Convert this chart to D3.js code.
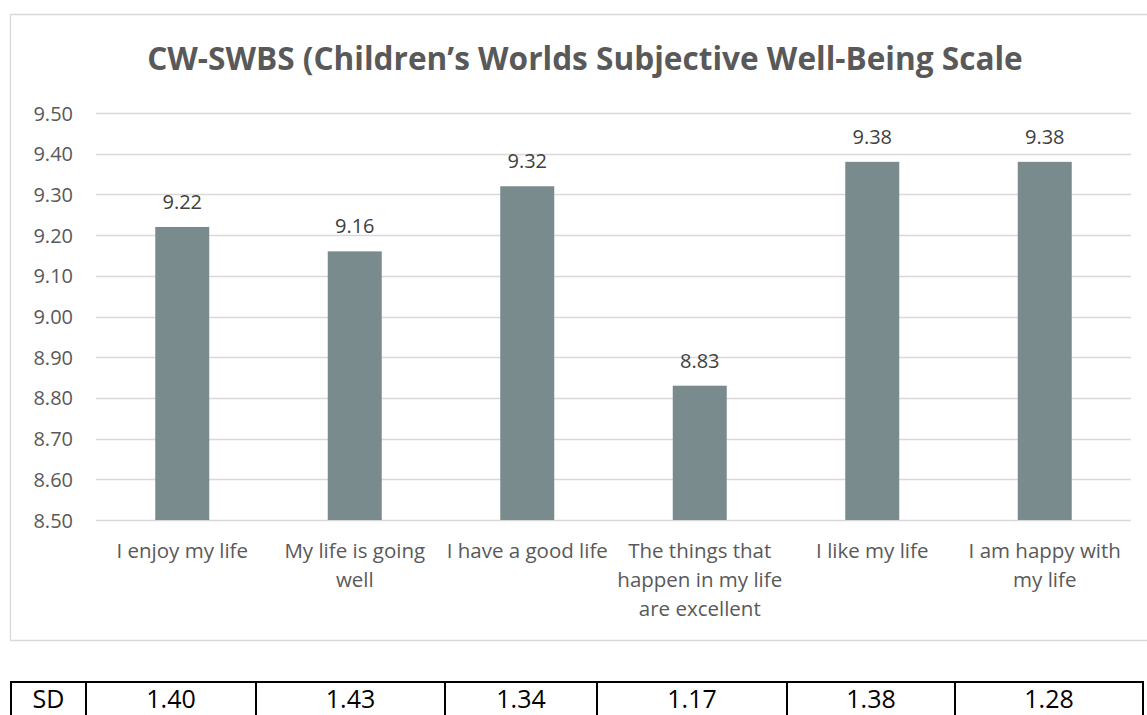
<!DOCTYPE html>
<html>
<head>
<meta charset="utf-8">
<script src="https://cdn.jsdelivr.net/npm/d3@7"></script>
<style>
  html, body { margin: 0; padding: 0; background: #ffffff; }
  svg { display: block; }
</style>
</head>
<body>
<svg id="chart" width="1147" height="715"></svg>
<script>
// ---- data ----
const titleText = "CW-SWBS (Children\u2019s Worlds Subjective Well-Being Scale";
const categories = [
  "I enjoy my life",
  "My life is going well",
  "I have a good life",
  "The things that happen in my life are excellent",
  "I like my life",
  "I am happy with my life"
];
const means = [9.22, 9.16, 9.32, 8.83, 9.38, 9.38];
const yTicks = [8.5, 8.6, 8.7, 8.8, 8.9, 9.0, 9.1, 9.2, 9.3, 9.4, 9.5];
const sdLabel = "SD";
const sdValues = [1.40, 1.43, 1.34, 1.17, 1.38, 1.28];

// ---- layout ----
const W = 1147, H = 715;
const plot = { left: 96, right: 1131, top: 113, bottom: 520 };
const font = "'Open Sans', 'DejaVu Sans', sans-serif";
const tableX = [11, 86, 256, 445, 597, 787, 955, 1143];
const tableTop = 682;

const svg = d3.select("#chart");

// chart frame (right side continues beyond the picture)
svg.append("path")
  .attr("d", `M${W + 5},14.5 H10.5 V640.5 H${W + 5}`)
  .attr("fill", "none").attr("stroke", "#d9d9d9").attr("stroke-width", 1.3);

const y = d3.scaleLinear().domain([8.5, 9.5]).range([plot.bottom, plot.top]);
const x = d3.scaleBand().domain(categories).range([plot.left, plot.right])
  .paddingInner(0.687).paddingOuter(0.3435);

// gridlines
svg.append("g").selectAll("line").data(yTicks).join("line")
  .attr("x1", plot.left).attr("x2", plot.right)
  .attr("y1", d => Math.round(y(d)) + 0.5).attr("y2", d => Math.round(y(d)) + 0.5)
  .attr("stroke", "#d9d9d9").attr("stroke-width", 1.3);

// y axis (labels only)
const yAxis = d3.axisLeft(y).tickValues(yTicks).tickFormat(d3.format(".2f")).tickSize(0).tickPadding(0);
const gy = svg.append("g").attr("transform", `translate(73,0)`).call(yAxis);
gy.select(".domain").remove();
gy.selectAll("text").attr("font-family", font).attr("font-size", 20).attr("fill", "#595959").attr("dy", "0.35em");

// bars
svg.append("g").selectAll("rect").data(means).join("rect")
  .attr("x", (d, i) => x(categories[i]))
  .attr("width", x.bandwidth())
  .attr("y", d => y(d))
  .attr("height", d => y(8.5) - y(d))
  .attr("fill", "#7a8b8d");

// data labels
svg.append("g").selectAll("text").data(means).join("text")
  .attr("x", (d, i) => x(categories[i]) + x.bandwidth() / 2)
  .attr("y", d => y(d) - 18)
  .attr("text-anchor", "middle")
  .attr("font-family", font).attr("font-size", 20).attr("fill", "#404040")
  .text(d => d3.format(".2f")(d));

// category labels with wrapping
const catG = svg.append("g");
const maxW = x.step();
categories.forEach(c => {
  const cx = x(c) + x.bandwidth() / 2;
  const t = catG.append("text")
    .attr("x", cx)
    .attr("y", 558)
    .attr("text-anchor", "middle")
    .attr("font-family", font).attr("font-size", 20.5).attr("fill", "#595959");
  const words = c.split(" ");
  let line = [];
  let ts = t.append("tspan").attr("x", cx).attr("dy", 0);
  words.forEach(w => {
    line.push(w);
    ts.text(line.join(" "));
    if (ts.node().getComputedTextLength() > maxW && line.length > 1) {
      line.pop();
      ts.text(line.join(" "));
      line = [w];
      ts = t.append("tspan").attr("x", cx).attr("dy", 29).text(w);
    }
  });
});

// title
const title = svg.append("text")
  .attr("x", 585).attr("y", 70)
  .attr("text-anchor", "middle")
  .attr("font-family", font).attr("font-weight", "bold").attr("font-size", 30)
  .attr("fill", "#595959")
  .text(titleText);
const tw = title.node().getComputedTextLength();
title.attr("font-size", 30 * 876 / tw);

// SD table
const tg = svg.append("g");
tg.append("line").attr("x1", tableX[0] - 1).attr("x2", tableX[tableX.length - 1] + 1)
  .attr("y1", tableTop).attr("y2", tableTop).attr("stroke", "#000").attr("stroke-width", 2);
tg.selectAll("line.v").data(tableX).join("line").attr("class", "v")
  .attr("x1", d => d).attr("x2", d => d).attr("y1", tableTop).attr("y2", H + 5)
  .attr("stroke", "#000").attr("stroke-width", 2);
const cells = [sdLabel].concat(sdValues.map(v => d3.format(".2f")(v)));
tg.selectAll("text").data(cells).join("text")
  .attr("x", (d, i) => (tableX[i] + tableX[i + 1]) / 2)
  .attr("y", 707.5)
  .attr("text-anchor", "middle")
  .attr("font-family", font).attr("font-size", 25).attr("fill", "#000")
  .text(d => d);
</script>
</body>
</html>
